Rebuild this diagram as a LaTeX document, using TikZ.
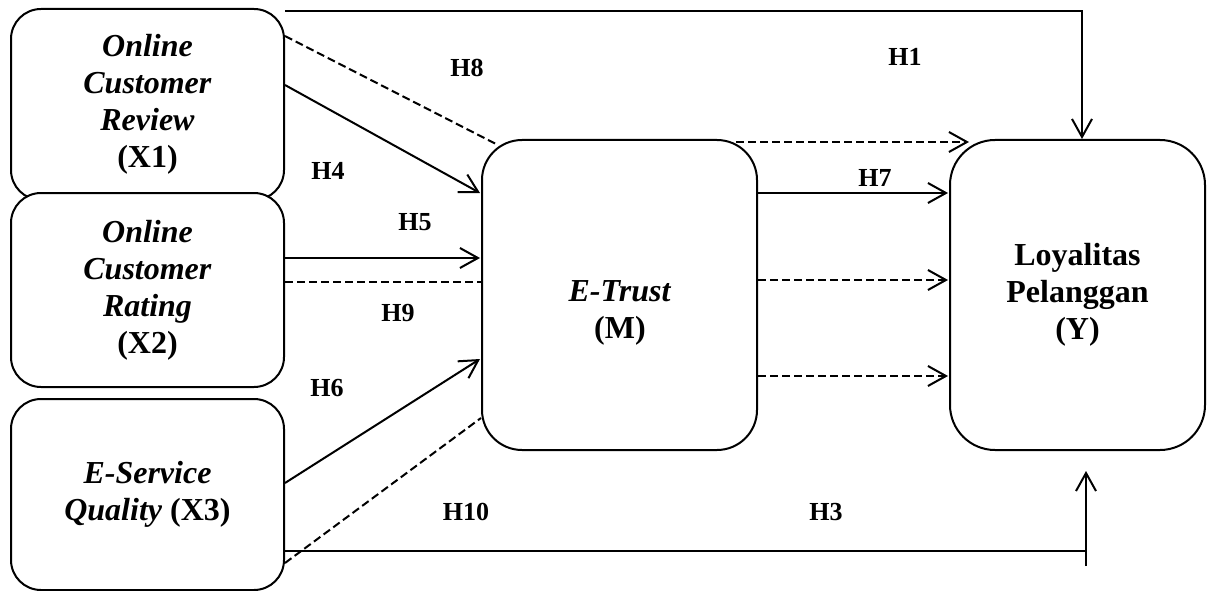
\documentclass[tikz,border=0pt]{standalone}
\usepackage{fontspec}
\setmainfont{Liberation Serif}
\usetikzlibrary{arrows.meta}
\begin{document}
\begin{tikzpicture}[x=1pt,y=-1pt,line width=2pt,
  box/.style={draw, fill=white, rounded corners=30pt, minimum width=273pt, minimum height=191pt,
    inner sep=0pt, align=center, font=\fontsize{32}{37}\selectfont\bfseries},
  txt/.style={inner sep=0pt, align=center, font=\fontsize{32}{37}\selectfont\bfseries},
  hlab/.style={inner sep=0pt, font=\fontsize{26}{30}\selectfont\bfseries},
  arr/.style={-{Straight Barb[length=18pt,width=20pt,line width=2pt]}},
  dsh/.style={dash pattern=on 8pt off 4pt}]
\useasboundingbox (0,0) rectangle (1213,591);

% boxes
\node[box] (X1) at (147.5,104.5) {\textit{Online}\\\textit{Customer}\\\textit{Review}\\(X1)};
\node[box, minimum height=194pt] (X2) at (147.5,290) {\textit{Online}\\\textit{Customer}\\\textit{Rating}\\(X2)};
\node[box] (X3) at (147.5,494.5) {\textit{E-Service}\\\textit{Quality} (X3)};
\node[box, rounded corners=40pt, minimum width=275pt, minimum height=310pt] (M) at (619.5,295) {};
\node[txt] (Mt) at (620,313) {\textit{E-Trust}\\(M)};
\node[box, rounded corners=45pt, minimum width=255pt, minimum height=310pt] (Y) at (1077.5,295) {Loyalitas\\Pelanggan\\(Y)};

% coordinates for free ends
\coordinate (h3c) at ([xshift=8.5pt,yshift=-100pt]Y.south);
\coordinate (h3b) at ([xshift=8.5pt,yshift=-115pt]Y.south);
\coordinate (h3t) at ([xshift=8.5pt,yshift=-20pt]Y.south);

% connectors X -> M
\draw[dsh] ([yshift=-28pt]X1.north east) -- ([shift={(15pt,-5pt)}]M.north west);
\draw[arr] ([yshift=-77pt]X1.north east) -- ([xshift=-1pt,yshift=102pt]M.west);
\draw[arr] ([yshift=32pt]X2.east) -- ([xshift=-1pt,yshift=37pt]M.west);
\draw[dsh] ([yshift=8pt]X2.east) -- ([yshift=13pt]M.west);
\draw[arr] ([yshift=11.5pt]X3.east) -- ([xshift=-1pt,yshift=-64pt]M.west);
\draw[dsh] ([yshift=-68.5pt]X3.east) -- ([yshift=33pt]M.south west);

% direct X -> Y
\draw[arr] ([yshift=-3pt]X1.north east) -| ([xshift=4.5pt]Y.north);
\draw ([yshift=-56.5pt]X3.east) -- (h3c);
\draw[arr] (h3b) -- (h3t);

% M -> Y
\draw[arr,dsh] ([shift={(-22pt,-3pt)}]M.north east) -- ([shift={(20pt,-3pt)}]Y.north west);
\draw[arr] ([yshift=102pt]M.east) -- ([xshift=-1pt,yshift=102pt]Y.west);
\draw[arr,dsh] ([yshift=15pt]M.east) -- ([xshift=-1pt,yshift=15pt]Y.west);
\draw[arr,dsh] ([yshift=-81pt]M.east) -- ([xshift=-1pt,yshift=-81pt]Y.west);

% labels
\node[hlab] (lH8) at (467,68) {H8};
\node[hlab] (lH1) at (905,57) {H1};
\node[hlab] (lH4) at (328,171) {H4};
\node[hlab] (lH5) at (415,222) {H5};
\node[hlab] (lH7) at (875,178) {H7};
\node[hlab] (lH9) at (398,313) {H9};
\node[hlab] (lH6) at (327,388) {H6};
\node[hlab] (lH10) at (466,512) {H10};
\node[hlab] (lH3) at (826,512) {H3};
\end{tikzpicture}
\end{document}
